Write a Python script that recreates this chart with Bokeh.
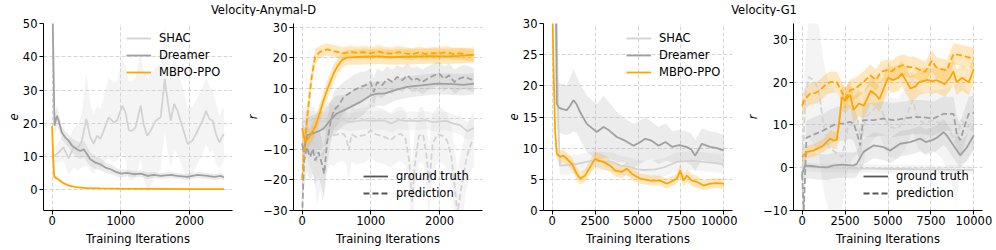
import numpy as np
from bokeh.plotting import figure
from bokeh.layouts import row, column
from bokeh.models import Range1d, FixedTicker, Legend, LegendItem
from bokeh.core.properties import value
from bokeh.embed import file_html
from bokeh.resources import INLINE

# ---------------- data ----------------
titles = ["Velocity-Anymal-D", "Velocity-G1"]
legend_methods = ["SHAC", "Dreamer", "MBPO-PPO"]
legend_kinds = ["ground truth", "prediction"]
x_label = "Training Iterations"
y_labels = ["e", "r", "e", "r"]

ticks_x_a = [0, 1000, 2000]
ticks_x_g = [0, 2500, 5000, 7500, 10000]
ticks_y = [[0, 10, 20, 30, 40, 50], [-30, -20, -10, 0, 10, 20, 30],
           [0, 5, 10, 15, 20, 25, 30], [-10, 0, 10, 20, 30]]

# Panel 1: Anymal-D, e
a_mbpo_x = [0, 15, 30, 60, 100, 150, 200, 260, 350, 500, 700, 1000, 1500, 2000, 2500]
a_mbpo_e = [19.2, 10.0, 4.0, 3.6, 3.0, 2.2, 1.7, 1.2, 0.8, 0.55, 0.45, 0.35, 0.3, 0.25, 0.2]
a_mbpo_s = [2.5, 2.0, 0.8, 0.6, 0.5, 0.4, 0.3, 0.3, 0.2, 0.2, 0.2, 0.15, 0.15, 0.15, 0.15]

a_dream_x = [0, 10, 35, 70, 95, 140, 190, 240, 290, 360, 410, 460, 510, 555, 630, 700, 775,
             850, 920, 1000, 1090, 1190, 1290, 1390, 1480, 1580, 1730, 1820, 1970, 2120, 2260,
             2360, 2460, 2500]
a_dream_e = [60, 50, 19.3, 22.3, 20.8, 17.3, 15.8, 14.8, 13.3, 12.2, 11.7, 12.2, 10.7, 9.2, 8.2,
             7.7, 6.7, 6.2, 5.5, 4.9, 5.1, 4.7, 4.9, 4.2, 4.5, 4.2, 4.5, 4.2, 3.9, 4.5, 4.2, 3.9,
             4.2, 3.7]
a_dream_s = [5, 5, 3, 3, 2.5, 2, 2, 2, 2, 2.5, 2.5, 2.5, 2.5, 2, 2, 1.8, 1.5, 1.5, 1.3, 1.2, 1.0,
             1.0, 1.0, 1.0, 0.9, 0.9, 0.9, 0.9, 0.9, 0.9, 0.9, 0.9, 0.9, 0.9]

a_shac_x = [0, 93, 166, 239, 312, 385, 434, 498, 556, 605, 654, 702, 751, 824, 898, 946, 1020,
            1068, 1117, 1166, 1215, 1288, 1337, 1385, 1434, 1507, 1580, 1639, 1688, 1727, 1776,
            1824, 1898, 1971, 2044, 2117, 2190, 2239, 2288, 2337, 2385, 2434, 2483, 2500]
a_shac_e = [9.7, 11.2, 12.8, 9.5, 12.8, 12.8, 14.8, 21.3, 15.8, 13.8, 16.3, 15.3, 17.8, 21.8,
            20.3, 20.8, 25.3, 23.3, 17.8, 17.8, 18.8, 25.3, 19.3, 16.3, 17.8, 20.8, 21.8, 33.3,
            25.8, 20.8, 25.8, 23.8, 18.8, 13.8, 14.8, 17.8, 20.8, 23.8, 21.3, 20.8, 16.8, 14.3,
            16.3, 16.8]
a_shac_s = [2, 3, 4, 5, 6, 7, 8, 14, 10, 9, 9, 9, 10, 12, 12, 12, 14, 14, 15, 15, 15, 16, 16, 17,
            17, 16, 16, 16, 15, 14, 14, 13, 12, 11, 10, 10, 10, 10, 10, 9, 9, 8, 8, 8]

# Panel 2: Anymal-D, r
b_mbpo_gt_x = [0, 45, 120, 190, 250, 310, 380, 460, 520, 580, 650, 750, 900, 1100, 1300, 1500,
               1700, 1900, 2100, 2300, 2500]
b_mbpo_gt_r = [-3.0, -7.6, -5.4, -2.6, 1.5, 6.0, 10.5, 15.0, 17.5, 19.3, 20.1, 20.3, 20.4, 20.5,
               20.3, 20.4, 20.5, 20.6, 20.5, 20.7, 21.0]
b_mbpo_gt_s = [3, 3, 3, 3, 3, 3, 3, 3, 2.5, 2.5, 2.5, 2.5, 2.5, 2.5, 2.5, 2.5, 2.5, 2.5, 2.5, 2.5,
               2.5]
b_mbpo_pr_x = [0, 30, 70, 110, 140, 190, 260, 360, 450, 510, 600, 700, 800, 900, 1000, 1100,
               1200, 1300, 1400, 1500, 1600, 1700, 1800, 1900, 2000, 2100, 2200, 2300, 2400, 2500]
b_mbpo_pr_r = [-19.6, -10, -0.4, 8, 13.8, 20.4, 22.0, 22.8, 22.3, 22.0, 21.5, 22.0, 21.7, 21.9,
               21.5, 22.2, 21.6, 21.4, 21.9, 21.5, 21.2, 21.8, 21.3, 21.6, 21.5, 21.9, 21.3, 21.5,
               21.0, 20.8]
b_mbpo_pr_s = [4, 4, 4, 3.5, 3, 2.5, 2, 2, 2, 2, 2, 2, 2, 2, 2, 2, 2, 2, 2, 2, 2, 2, 2, 2, 2, 2, 2,
               2, 2, 2]
b_dream_gt_x = [0, 20, 70, 150, 240, 310, 410, 500, 600, 700, 850, 1000, 1100, 1200, 1340, 1530,
                1730, 1970, 2200, 2350, 2500]
b_dream_gt_r = [-8, -10.9, -5.4, -4.8, -4.0, -3.2, -0.4, 1.7, 2.8, 3.9, 5.6, 7.8, 8.3, 8.3, 9.4,
                10.5, 11.0, 11.6, 11.4, 11.2, 11.6]
b_dream_gt_s = [5, 6, 6, 6, 6, 6, 6, 6, 5, 5, 5, 4, 4, 4, 3.5, 3.5, 3.5, 3.5, 3.5, 3.5, 3.5]
b_dream_pr_x = [0, 29, 68, 117, 156, 190, 239, 288, 322, 361, 410, 459, 532, 605, 678, 751, 849,
                922, 995, 1044, 1093, 1166, 1239, 1312, 1385, 1459, 1532, 1605, 1678, 1751, 1824,
                1922, 1995, 2068, 2141, 2215, 2288, 2361, 2434, 2500]
b_dream_pr_r = [-32, -13.6, -9.2, -12.5, -9.8, -13.6, -10.9, -14.7, -18, -8.1, -1.5, 2.8, 4.5,
                7.2, 8.3, 9.4, 10.5, 11.1, 12.1, 8.9, 12.1, 11.1, 13.2, 12.1, 13.8, 12.7, 14.3,
                12.7, 13.2, 12.1, 13.2, 14.3, 14.9, 13.2, 14.3, 12.1, 13.2, 13.8, 13.2, 12.7]
b_dream_pr_s = [8, 8, 8, 8, 8, 8, 8, 8, 8, 8, 7, 6, 6, 5, 5, 5, 5, 4.5, 4.5, 4.5, 4.5, 4.5, 4, 4,
                4, 4, 4, 4, 4, 4, 4, 4, 4, 4, 4, 4, 4, 4, 4, 4]
b_shac_gt_x = [0, 100, 200, 300, 400, 500, 600, 700, 800, 900, 1000, 1100, 1200, 1300, 1400,
               1500, 1600, 1700, 1800, 1900, 2000, 2100, 2200, 2300, 2400, 2500]
b_shac_gt_r = [-1.0, -0.5, -0.3, -0.8, -0.5, -0.6, -0.4, -1.0, -0.7, -0.4, -0.6, -0.5, -0.5,
               -1.5, -0.3, -0.6, -0.5, -0.7, -0.4, -1.0, -0.8, -0.6, -1.5, -2.0, -4.0, -3.0]
b_shac_gt_s = [3, 3, 3, 3, 3, 3, 3, 3, 3, 3, 3, 3, 3, 3, 3, 3, 3, 3, 3, 3, 3, 3, 3, 3, 3, 3]
b_shac_pr_x = [0, 60, 120, 180, 215, 260, 300, 350, 410, 460, 530, 600, 640, 680, 720, 780, 850,
               920, 1000, 1070, 1140, 1210, 1290, 1360, 1430, 1500, 1560, 1600, 1640, 1700, 1760,
               1810, 1850, 1900, 1970, 2040, 2110, 2170, 2220, 2260, 2320, 2400, 2460, 2500]
b_shac_pr_r = [-2, -4, -6, -8, -14, -9, -13, -6, -4.8, -5.4, -5.0, -4.8, -6, -10.3, -5, -5.9,
               -5.5, -5.2, -3.7, -5.0, -5.5, -6.0, -7.0, -5.5, -4.8, -6.0, -14, -27, -15, -5.5,
               -5.0, -12, -21, -8, -5.0, -5.5, -7.0, -12, -22, -31, -22, -12, -8, -6.5]
b_shac_pr_s = [6, 8, 10, 12, 14, 14, 14, 12, 10, 10, 9, 9, 9, 10, 9, 9, 9, 9, 9, 9, 9, 9, 9, 9, 9,
               9, 10, 12, 10, 9, 9, 10, 12, 10, 9, 9, 9, 10, 12, 14, 12, 10, 9, 9]

# Panel 3: G1, e
c_mbpo_x = [0, 78, 175, 272, 466, 660, 854, 1146, 1437, 1631, 1922, 2214, 2505, 2699, 2990,
            3379, 3670, 4058, 4350, 4641, 5126, 5709, 6291, 6680, 7262, 7456, 7650, 7845, 8136,
            8427, 8816, 9204, 9592, 10000]
c_mbpo_e = [36, 23.6, 12.9, 9.1, 8.6, 8.8, 8.3, 7.5, 5.9, 5.1, 5.6, 7.0, 8.3, 8.0, 7.8, 7.2,
            6.4, 6.2, 6.7, 5.9, 5.1, 4.8, 4.8, 4.3, 5.1, 6.4, 4.8, 5.6, 4.8, 4.6, 4.0, 4.3, 4.4,
            4.3]
c_mbpo_s = [2, 2, 1.5, 1, 1, 1, 1, 1, 1, 1, 1, 1.2, 1.2, 1.2, 1.2, 1, 1, 1, 1, 1, 0.8, 0.8, 0.8,
            0.8, 0.8, 1, 1, 1, 1, 1, 0.8, 0.8, 0.8, 0.8]
c_shac_x = [0, 250, 350, 450, 1000, 1500, 2000, 2408, 3000, 3500, 4000, 4500, 5000, 5320, 6000,
            6500, 7262, 8039, 8800, 9500, 10000]
c_shac_e = [38, 35, 15, 7.2, 7.3, 7.5, 7.8, 8.0, 7.9, 7.8, 7.2, 7.0, 6.6, 6.5, 6.6, 6.9, 7.8, 8.0,
            7.8, 7.6, 7.4]
c_shac_s = [3, 3, 3, 1.5, 1.5, 1.5, 1.5, 1.5, 1.5, 1.5, 1.5, 1.5, 1.5, 1.5, 1.5, 1.5, 1.5, 1.5,
            1.5, 1.5, 1.5]
c_dream_x = [0, 200, 272, 400, 563, 854, 1050, 1243, 1437, 1631, 2019, 2602, 2990, 3300, 3767,
             4250, 4738, 5100, 5417, 5800, 6194, 6600, 7000, 7400, 7800, 8100, 8330, 8718, 9200,
             9600, 10000]
c_dream_e = [45, 40, 17.1, 16.5, 16.3, 16.1, 16.8, 17.7, 17.0, 15.8, 13.9, 12.6, 13.4, 12.9,
             11.8, 11.2, 10.4, 10.9, 11.5, 11.2, 10.4, 11.0, 10.2, 10.5, 10.2, 9.8, 8.8, 10.7,
             10.2, 10.0, 9.6]
c_dream_s = [5, 5, 4, 4, 4, 4, 4.5, 5, 4.5, 4.5, 4.5, 4.5, 5, 4.5, 4, 3.5, 3.5, 3.5, 3.5, 3, 3, 3,
             2.5, 2.5, 2.5, 2.5, 2.5, 2.5, 2.5, 2.5, 2.5]

# Panel 4: G1, r
d_mbpo_gt_x = [0, 272, 660, 854, 1243, 1631, 1825, 2019, 2200, 2311, 2505, 2800, 3000, 3300,
               3600, 4000, 4300, 4500, 4700, 5000, 5300, 5600, 5800, 6100, 6300, 6600, 6800,
               7100, 7300, 7600, 7800, 8100, 8300, 8500, 8600, 8800, 9000, 9300, 9500, 9700,
               10000]
d_mbpo_gt_r = [2.5, 3.7, 4.0, 4.4, 5.2, 6.8, 6.4, 6.5, 12.0, 16.5, 15.7, 17.0, 13.5, 15.0, 14.5,
               18.0, 17.0, 16.0, 18.0, 21.0, 20.5, 21.0, 22.0, 20.0, 18.5, 19.0, 20.0, 20.3, 20.5,
               20.2, 20.5, 20.0, 19.5, 20.5, 21.0, 22.5, 20.0, 21.0, 20.5, 20.0, 23.0]
d_mbpo_gt_s = [1.5, 1.5, 1.5, 1.5, 1.5, 2, 2, 2, 2.5, 3, 3, 3, 3, 3, 3, 3, 3, 3, 3, 3, 3, 3, 3, 3,
               3, 3, 3, 3, 3, 3, 3, 3, 3, 3, 3, 3, 3, 3, 3, 3, 3]
d_mbpo_pr_x = [0, 150, 466, 800, 1049, 1400, 1631, 2019, 2311, 2505, 2796, 3100, 3573, 3961,
               4300, 4600, 4932, 5200, 5515, 5900, 6200, 6500, 6900, 7165, 7553, 7800, 8000,
               8427, 8816, 9204, 9592, 10000]
d_mbpo_pr_r = [14.5, 16.0, 17.3, 17.5, 18.1, 19.5, 20.0, 20.0, 17.7, 16.1, 18.1, 18.5, 20.0,
               21.6, 20.5, 22.4, 22.8, 22.5, 23.5, 24.0, 23.5, 23.5, 22.8, 22.4, 25.0, 23.5,
               23.1, 22.8, 26.6, 26.3, 25.9, 25.5]
d_mbpo_pr_s = [2.5, 2.5, 2.5, 2.5, 2.5, 2.5, 2.5, 2.5, 2.5, 2.5, 2.5, 2.5, 2.5, 2.5, 2.5, 2.5,
               2.5, 2.5, 2.5, 2.5, 2.5, 2.5, 2.5, 2.5, 2.5, 2.5, 2.5, 2.5, 2.5, 2.5, 2.5, 2.5]
d_dream_gt_x = [0, 175, 500, 1000, 1437, 1800, 2300, 2990, 3184, 3573, 4155, 4500, 4738, 5126,
                5709, 6291, 6874, 7200, 7600, 7845, 8233, 8427, 8816, 9204, 9600, 10000]
d_dream_gt_r = [-1.4, 0.5, 0.4, 0.2, 0.1, 0.5, 0.7, 0.5, 0.9, 3.7, 5.2, 5.0, 4.8, 4.0, 5.6, 6.0,
                6.8, 6.0, 6.5, 7.0, 8.3, 7.5, 5.2, 2.9, 4.8, 7.6]
d_dream_gt_s = [3, 3, 3, 3, 3, 3, 3, 3, 3, 3, 3, 3, 3, 3, 3, 3, 3, 3, 3, 3, 3, 3, 3, 3, 3, 3]
d_dream_pr_x = [0, 100, 250, 600, 1243, 1600, 2019, 2400, 2796, 3000, 3200, 3379, 3550, 4155,
                4738, 5320, 5900, 6485, 7000, 7650, 8233, 8816, 9000, 9204, 9400, 9700, 10000]
d_dream_pr_r = [-1.5, -10, 7.0, 7.6, 8.7, 9.5, 10.3, 10.3, 10.7, 10.3, 8.0, 5.2, 11.1, 11.1,
                11.5, 11.1, 11.5, 11.8, 11.8, 11.5, 12.6, 12.6, 8.0, 6.4, 9.0, 12.6, 12.8]
d_dream_pr_s = [4, 4, 4, 4, 4, 4, 4, 4, 4, 4, 4, 4, 4, 4, 4, 4, 4, 4, 4, 4, 4, 4, 4, 4, 4, 4, 4]
d_shac_gt_x = [0, 1000, 2000, 3000, 4000, 5000, 6000, 7000, 8000, 9000, 10000]
d_shac_gt_r = [0.2, 0.0, -0.1, -0.2, -0.2, -0.3, -0.3, -0.4, -0.4, -0.5, -0.5]
d_shac_gt_s = [1, 1, 1, 1, 1, 1, 1, 1, 1, 1, 1]
d_shac_pr_x = [0, 192, 385, 680, 971, 1262, 1553, 2039, 2330, 2660, 2950, 3240, 3434, 3726,
               4115, 4503, 4697, 5085, 5570, 5959, 6445, 6736, 7124, 7610, 8095, 8581, 8969,
               9260, 9649, 10000]
d_shac_pr_r = [-2.2, 16.5, 21.2, 20.4, 18.1, 9.5, 4.8, 3.3, 2.5, 9.5, 10.3, 11.1, 6.4, 11.9,
               13.4, 15.0, 12.7, 9.5, 9.1, 11.1, 15.8, 11.5, 10.3, 11.1, 10.3, 8.7, 5.6, 11.1,
               9.5, 11.1]
d_shac_pr_s = [8, 10, 14, 15, 15, 15, 15, 14, 12, 10, 8, 8, 8, 8, 7, 7, 7, 7, 7, 7, 7, 7, 7, 7, 8,
               10, 14, 10, 8, 7]

# ---------------- style ----------------
FONT = "DejaVu Sans"
FS = "11.5px"
ORANGE = "#ffa500"
GRAY = "#a0a0a0"
LIGHT = "#d3d3d3"
KEY = "#555555"
LW = 1.8
DASH = "6 3"

TH = 16           # title strip height
PH = 234          # plot figure height
BT, BB = 7, 40    # top / bottom borders


def make_fig(width, bl, br, xr, yr, xt, yt, ylab, ylab_standoff):
    p = figure(width=width, height=PH, x_range=Range1d(*xr), y_range=Range1d(*yr),
               output_backend="svg", toolbar_location=None,
               min_border_left=bl, min_border_right=br, min_border_top=BT, min_border_bottom=BB)
    p.outline_line_color = None
    p.background_fill_color = "white"
    p.border_fill_color = "white"
    p.xaxis.ticker = FixedTicker(ticks=xt)
    p.yaxis.ticker = FixedTicker(ticks=yt)
    p.yaxis.major_label_overrides = {t: ("\u2212" + str(-t)) for t in yt if t < 0}
    for ax in (p.xaxis[0], p.yaxis[0]):
        ax.axis_line_color = "black"
        ax.axis_line_width = 1
        ax.major_tick_line_color = "black"
        ax.major_tick_in = 0
        ax.major_tick_out = 4
        ax.minor_tick_line_color = None
        ax.major_label_text_font = FONT
        ax.major_label_text_font_size = FS
        ax.major_label_text_color = "black"
        ax.axis_label_text_font = FONT
        ax.axis_label_text_font_size = FS
        ax.axis_label_text_color = "black"
    p.xaxis.axis_label = x_label
    p.xaxis.axis_label_text_font_style = "normal"
    p.xaxis.major_label_standoff = 1
    p.xaxis.axis_label_standoff = 4
    p.yaxis.axis_label = ylab
    p.yaxis.axis_label_text_font_style = "italic"
    p.yaxis.major_label_standoff = 2
    p.yaxis.axis_label_standoff = ylab_standoff
    p.grid.grid_line_color = "#cccccc"
    p.grid.grid_line_width = 0.8
    p.grid.grid_line_dash = "4 2"
    return p


def band(p, x, y, s, color, alpha):
    x = np.asarray(x, float)
    y = np.asarray(y, float)
    s = np.asarray(s, float)
    p.varea(x=x, y1=y - s, y2=y + s, fill_color=color, fill_alpha=alpha)


def curve(p, x, y, color, dash="solid"):
    return p.line(x=x, y=y, line_color=color, line_width=LW, line_dash=dash)


def legend_style(leg):
    leg.label_text_font = FONT
    leg.label_text_font_size = FS
    leg.label_text_color = "black"
    leg.glyph_width = 25
    leg.glyph_height = 14
    leg.label_height = 14
    leg.label_standoff = 8
    leg.spacing = 3
    leg.padding = 0
    leg.margin = 0
    leg.border_line_alpha = 0
    leg.background_fill_alpha = 0


def key_legend(p, gx, gy, px, py):
    # hidden copies of real series, drawn only as legend keys
    k_gt = p.line(x=gx, y=gy, line_color=KEY, line_width=LW, visible=False)
    k_pr = p.line(x=px, y=py, line_color=KEY, line_width=LW, line_dash=DASH, visible=False)
    leg = Legend(items=[LegendItem(label=legend_kinds[0], renderers=[k_gt]),
                        LegendItem(label=legend_kinds[1], renderers=[k_pr])],
                 location=(70, 10))
    legend_style(leg)
    p.add_layout(leg)


# ---------------- panel 1 ----------------
p1 = make_fig(237, 43, 5, (-125, 2625), (-6.2, 50), ticks_x_a, ticks_y[0], y_labels[0], 2)
band(p1, a_shac_x, a_shac_e, a_shac_s, LIGHT, 0.25)
band(p1, a_dream_x, a_dream_e, a_dream_s, GRAY, 0.2)
band(p1, a_mbpo_x, a_mbpo_e, a_mbpo_s, ORANGE, 0.25)
r_s = curve(p1, a_shac_x, a_shac_e, LIGHT)
r_d = curve(p1, a_dream_x, a_dream_e, GRAY)
r_m = curve(p1, a_mbpo_x, a_mbpo_e, ORANGE)
leg1 = Legend(items=[LegendItem(label=legend_methods[0], renderers=[r_s]),
                     LegendItem(label=legend_methods[1], renderers=[r_d]),
                     LegendItem(label=legend_methods[2], renderers=[r_m])],
              location=(83, 131))
legend_style(leg1)
p1.add_layout(leg1)

# ---------------- panel 2 ----------------
p2 = make_fig(263, 56, 18, (-125, 2625), (-30, 31.3), ticks_x_a, ticks_y[1], y_labels[1], 0)
band(p2, b_shac_pr_x, b_shac_pr_r, b_shac_pr_s, LIGHT, 0.25)
band(p2, b_shac_gt_x, b_shac_gt_r, b_shac_gt_s, LIGHT, 0.25)
band(p2, b_dream_pr_x, b_dream_pr_r, b_dream_pr_s, GRAY, 0.2)
band(p2, b_dream_gt_x, b_dream_gt_r, b_dream_gt_s, GRAY, 0.2)
band(p2, b_mbpo_pr_x, b_mbpo_pr_r, b_mbpo_pr_s, ORANGE, 0.25)
band(p2, b_mbpo_gt_x, b_mbpo_gt_r, b_mbpo_gt_s, ORANGE, 0.25)
curve(p2, b_shac_pr_x, b_shac_pr_r, LIGHT, DASH)
curve(p2, b_shac_gt_x, b_shac_gt_r, LIGHT)
curve(p2, b_dream_pr_x, b_dream_pr_r, GRAY, DASH)
curve(p2, b_dream_gt_x, b_dream_gt_r, GRAY)
curve(p2, b_mbpo_pr_x, b_mbpo_pr_r, ORANGE, DASH)
curve(p2, b_mbpo_gt_x, b_mbpo_gt_r, ORANGE)
key_legend(p2, b_mbpo_gt_x, b_mbpo_gt_r, b_mbpo_pr_x, b_mbpo_pr_r)

# ---------------- panel 3 ----------------
p3 = make_fig(237, 43, 5, (-500, 10500), (0, 30), ticks_x_g, ticks_y[2], y_labels[2], 2)
band(p3, c_shac_x, c_shac_e, c_shac_s, LIGHT, 0.25)
band(p3, c_dream_x, c_dream_e, c_dream_s, GRAY, 0.2)
band(p3, c_mbpo_x, c_mbpo_e, c_mbpo_s, ORANGE, 0.25)
q_s = curve(p3, c_shac_x, c_shac_e, LIGHT)
q_d = curve(p3, c_dream_x, c_dream_e, GRAY)
q_m = curve(p3, c_mbpo_x, c_mbpo_e, ORANGE)
leg3 = Legend(items=[LegendItem(label=legend_methods[0], renderers=[q_s]),
                     LegendItem(label=legend_methods[1], renderers=[q_d]),
                     LegendItem(label=legend_methods[2], renderers=[q_m])],
              location=(83, 131))
legend_style(leg3)
p3.add_layout(leg3)

# ---------------- panel 4 ----------------
p4 = make_fig(259, 56, 14, (-500, 10500), (-10, 33.7), ticks_x_g, ticks_y[3], y_labels[3], 0)
band(p4, d_shac_pr_x, d_shac_pr_r, d_shac_pr_s, LIGHT, 0.25)
band(p4, d_shac_gt_x, d_shac_gt_r, d_shac_gt_s, LIGHT, 0.25)
band(p4, d_dream_pr_x, d_dream_pr_r, d_dream_pr_s, GRAY, 0.2)
band(p4, d_dream_gt_x, d_dream_gt_r, d_dream_gt_s, GRAY, 0.2)
band(p4, d_mbpo_pr_x, d_mbpo_pr_r, d_mbpo_pr_s, ORANGE, 0.25)
band(p4, d_mbpo_gt_x, d_mbpo_gt_r, d_mbpo_gt_s, ORANGE, 0.25)
curve(p4, d_shac_pr_x, d_shac_pr_r, LIGHT, DASH)
curve(p4, d_shac_gt_x, d_shac_gt_r, LIGHT)
curve(p4, d_dream_pr_x, d_dream_pr_r, GRAY, DASH)
curve(p4, d_dream_gt_x, d_dream_gt_r, GRAY)
curve(p4, d_mbpo_pr_x, d_mbpo_pr_r, ORANGE, DASH)
curve(p4, d_mbpo_gt_x, d_mbpo_gt_r, ORANGE)
key_legend(p4, d_mbpo_gt_x, d_mbpo_gt_r, d_mbpo_pr_x, d_mbpo_pr_r)

# ---------------- title strip ----------------
pt = figure(width=996, height=TH, x_range=Range1d(0, 996), y_range=Range1d(0, TH),
            output_backend="svg", toolbar_location=None, x_axis_location=None,
            y_axis_location=None, min_border=0, min_border_left=0, min_border_right=0,
            min_border_top=0, min_border_bottom=0)
pt.outline_line_color = None
pt.grid.visible = False
title_x = [263, 763.5]
pt.text(x=title_x, y=[TH - 9.5] * 2, text=titles, text_align="center",
        text_baseline="middle", text_font=value(FONT), text_font_size=FS, text_color="black")

layout = column(pt, row(p1, p2, p3, p4))
open("out.html", "w").write(file_html(layout, INLINE))
